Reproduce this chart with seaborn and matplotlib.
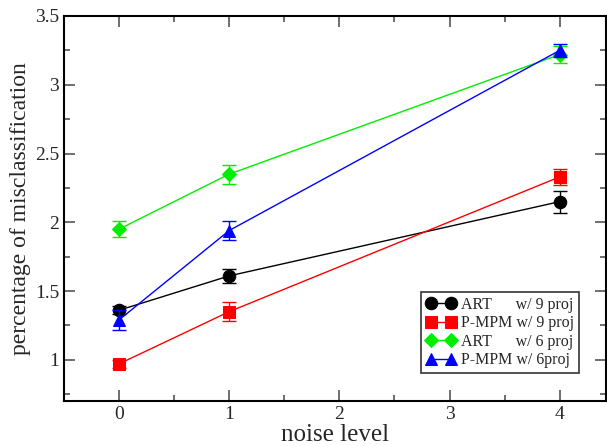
import matplotlib
matplotlib.use("Agg")
import matplotlib.pyplot as plt
import seaborn as sns
import pandas as pd
from matplotlib.ticker import MultipleLocator

noise = [0, 1, 4]
art9 = [1.36, 1.61, 2.15]
art9_err = [0.03, 0.05, 0.08]
pmpm9 = [0.97, 1.35, 2.33]
pmpm9_err = [0.03, 0.07, 0.06]
art6 = [1.95, 2.35, 3.22]
art6_err = [0.06, 0.07, 0.06]
pmpm6 = [1.29, 1.94, 3.25]
pmpm6_err = [0.07, 0.07, 0.05]
labels = ["ART      w/ 9 proj", "P-MPM w/ 9 proj", "ART      w/ 6 proj", "P-MPM w/ 6proj"]

sns.set_style("ticks")
plt.rcParams['font.family'] = ['Liberation Serif', 'DejaVu Serif']

fig = plt.figure(figsize=(6.07, 4.46), dpi=100)
ax = fig.add_axes([64/607, 45/446, 542/607, 385/446])

series = [
    (art9, art9_err, "black", "o", 9),
    (pmpm9, pmpm9_err, "red", "s", 8),
    (art6, art6_err, "#00ee00", "D", 7),
    (pmpm6, pmpm6_err, "blue", "^", 9),
]
for (vals, errs, color, marker, ms), lab in zip(series, labels):
    df = pd.DataFrame({"x": noise, "y": vals})
    sns.lineplot(data=df, x="x", y="y", ax=ax, color=color, marker=marker,
                 markersize=ms, markeredgecolor=color, linewidth=1, label=lab)
    ax.errorbar(noise, vals, yerr=errs, fmt="none", ecolor=color, elinewidth=1,
                capsize=5, capthick=1)

ax.set_xlim(-0.5, 4.42)
ax.set_ylim(0.7, 3.5)
ax.xaxis.set_major_locator(MultipleLocator(1))
ax.xaxis.set_minor_locator(MultipleLocator(0.5))
ax.yaxis.set_major_locator(MultipleLocator(0.5))
ax.yaxis.set_minor_locator(MultipleLocator(0.25))
ax.set_yticks([1, 1.5, 2, 2.5, 3, 3.5])
ax.set_yticklabels(["1", "1.5", "2", "2.5", "3", "3.5"])
ax.tick_params(which="both", direction="in", top=True, right=True, labelsize=14, color="#555555")
ax.tick_params(which="major", length=8, width=1.2)
ax.tick_params(which="minor", length=4, width=1.2)
for s in ax.spines.values():
    s.set_linewidth(1.5)
    s.set_color("black")
ax.set_xlabel("noise level", fontsize=18, labelpad=1)
ax.set_ylabel("percentage of misclassification", fontsize=17, labelpad=3)

leg = ax.legend(loc="lower right", bbox_to_anchor=(0.95, 0.073), borderaxespad=0,
                numpoints=2, fontsize=11.5, frameon=True, fancybox=False, edgecolor="black",
                handlelength=1.9, handletextpad=0.3, borderpad=0.3, labelspacing=0.15)
leg.get_frame().set_linewidth(1.2)

fig.savefig("out.png", dpi=100)
